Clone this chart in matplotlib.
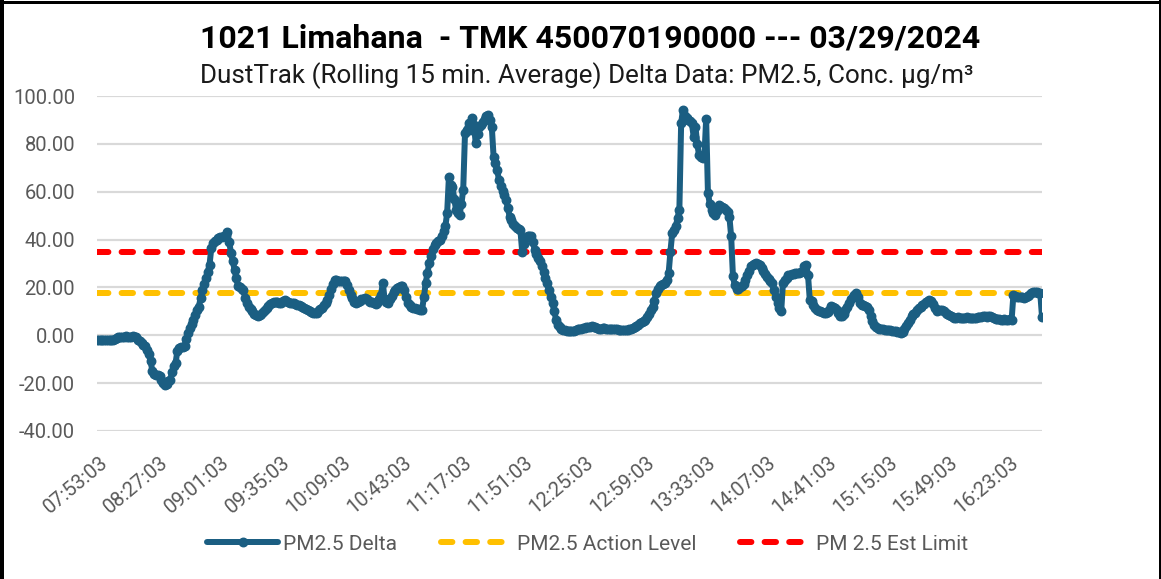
import numpy as np
import matplotlib
matplotlib.use("Agg")
import matplotlib.pyplot as plt
from matplotlib.lines import Line2D
import matplotlib.transforms as mtrans
from datetime import datetime, timedelta

plt.rcParams['font.family'] = ['Roboto', 'DejaVu Sans']

# ---------------- data ----------------
title = "1021 Limahana  - TMK 450070190000 --- 03/29/2024"
subtitle = "DustTrak (Rolling 15 min. Average) Delta Data: PM2.5, Conc. µg/m³"
start_time = "07:53:03"
label_every = 34
series_names = ["PM2.5 Delta", "PM2.5 Action Level", "PM 2.5 Est Limit"]
action_level = 17.5
est_limit = 35.0
y_ticks = [-40, -20, 0, 20, 40, 60, 80, 100]

pm25_delta = [
    -2.1, -2.0, -2.0, -2.0, -2.0, -2.0, -2.0, -2.0, -2.0, -1.9,
    -1.5, -1.0, -0.8, -0.7, -0.8, -0.6, -0.5, -0.6, -0.7, -0.6,
    -0.5, -0.6, -0.9, -1.8, -2.5, -3.2, -3.9, -4.6, -6.0, -8.0,
    -10.8, -15.0, -16.2, -16.5, -16.8, -17.0, -18.5, -19.8, -20.6, -20.2,
    -19.0, -18.5, -15.5, -13.0, -11.5, -6.5, -5.5, -5.0, -4.8, -4.6,
    -1.5, 1.0, 3.0, 4.8, 6.5, 8.5, 10.5, 12.0, 15.5, 19.0,
    21.5, 24.0, 26.5, 29.5, 36.5, 38.5, 39.5, 40.0, 40.6, 41.0,
    41.2, 41.5, 42.0, 43.0, 39.0, 34.5, 31.0, 27.4, 24.0, 20.4,
    20.0, 19.5, 19.0, 15.5, 13.5, 12.0, 10.8, 10.0, 9.0, 8.5,
    8.0, 8.3, 9.0, 9.8, 10.7, 11.5, 12.3, 13.0, 13.5, 13.8,
    14.0, 14.0, 13.6, 13.5, 14.2, 14.8, 14.5, 13.8, 13.5, 13.6,
    13.5, 13.2, 12.8, 12.5, 12.2, 12.0, 11.5, 11.0, 10.5, 10.0,
    9.8, 9.5, 9.3, 9.5, 10.5, 11.0, 11.5, 12.5, 13.5, 14.9,
    17.0, 19.5, 21.5, 23.2, 23.0, 22.8, 22.5, 22.8, 22.5, 22.5,
    21.0, 19.0, 17.0, 15.5, 14.0, 13.5, 13.8, 14.5, 15.0, 15.3,
    15.6, 15.0, 14.5, 14.0, 13.8, 13.5, 13.2, 13.5, 15.0, 17.0,
    21.9, 15.0, 14.0, 13.5, 15.0, 16.5, 18.0, 19.0, 19.8, 20.2,
    20.4, 20.4, 19.0, 16.0, 13.5, 12.5, 12.0, 11.4, 11.2, 11.0,
    10.8, 10.7, 10.7, 16.0, 21.9, 26.0, 30.2, 33.0, 36.0, 37.8,
    38.5, 39.2, 39.9, 41.5, 43.5, 45.5, 51.0, 66.3, 63.0, 62.0,
    57.0, 52.4, 51.0, 50.4, 55.0, 60.8, 84.4, 86.0, 88.6, 85.8,
    90.7, 88.0, 80.3, 84.0, 87.2, 88.0, 89.3, 90.5, 91.5, 92.1,
    90.0, 87.2, 74.7, 72.0, 69.1, 65.0, 62.2, 60.5, 58.5, 56.6,
    53.0, 49.6, 48.0, 46.5, 45.5, 45.0, 44.5, 44.1, 35.0, 38.0,
    41.0, 41.3, 41.5, 41.3, 39.0, 35.8, 34.0, 32.5, 31.0, 28.8,
    26.5, 24.0, 21.9, 19.0, 16.0, 13.5, 10.0, 6.5, 4.5, 3.5,
    2.6, 2.4, 2.2, 2.0, 1.8, 1.7, 1.8, 2.0, 2.3, 2.5,
    2.7, 2.8, 3.0, 3.2, 3.3, 3.5, 3.6, 3.8, 3.6, 3.3,
    3.0, 2.8, 2.8, 2.9, 3.0, 2.8, 2.7, 2.6, 2.7, 2.6,
    2.5, 2.5, 2.4, 2.4, 2.3, 2.3, 2.4, 2.4, 2.5, 2.8,
    3.2, 3.5, 3.8, 4.3, 5.0, 5.6, 6.0, 6.5, 7.5, 9.0,
    10.5, 12.0, 14.5, 17.5, 19.5, 20.4, 21.0, 21.5, 22.0, 23.2,
    26.0, 35.0, 42.7, 44.0, 45.5, 49.0, 52.4, 88.6, 94.2, 91.5,
    90.7, 90.0, 89.5, 88.6, 83.0, 87.2, 80.0, 75.4, 74.5, 74.0,
    74.7, 90.3, 59.4, 55.0, 52.4, 51.0, 50.4, 52.0, 54.5, 54.0,
    53.5, 53.1, 52.5, 51.5, 49.6, 41.3, 24.6, 21.0, 19.5, 19.5,
    20.0, 20.4, 21.5, 23.0, 25.0, 27.0, 28.8, 29.5, 30.0, 30.2,
    30.0, 29.2, 28.0, 26.7, 25.5, 24.5, 23.5, 22.5, 21.9, 19.0,
    16.0, 13.5, 11.5, 10.0, 21.9, 23.0, 24.0, 25.0, 25.3, 25.5,
    25.8, 26.0, 26.0, 26.2, 26.5, 27.0, 28.8, 29.5, 25.3, 14.9,
    14.2, 12.5, 11.5, 10.7, 10.2, 10.0, 9.8, 9.3, 9.5, 9.8,
    10.5, 12.1, 11.8, 11.4, 10.5, 9.5, 8.2, 7.9, 9.0, 10.5,
    12.0, 13.5, 15.0, 16.0, 17.0, 17.7, 16.0, 13.6, 12.8, 12.5,
    12.1, 12.0, 10.5, 7.9, 6.0, 4.5, 3.6, 3.1, 2.8, 2.6,
    2.5, 2.4, 2.4, 2.3, 2.2, 2.0, 1.8, 1.6, 1.4, 1.2,
    1.0, 1.5, 2.5, 3.8, 5.0, 6.5, 7.9, 8.8, 9.5, 10.5,
    11.4, 12.0, 12.5, 13.0, 13.8, 14.2, 14.9, 14.5, 13.0, 11.5,
    10.0, 10.5, 10.7, 10.5, 10.0, 9.5, 9.0, 8.5, 8.0, 7.6,
    7.3, 7.3, 7.5, 7.4, 7.3, 7.2, 7.3, 7.5, 7.4, 7.3,
    7.3, 7.2, 7.4, 7.5, 7.6, 7.7, 7.9, 8.0, 7.8, 7.9,
    7.9, 7.5, 7.2, 7.0, 6.8, 6.7, 6.5, 6.5, 6.6, 6.5,
    6.5, 6.6, 6.5, 17.0, 16.5, 16.2, 16.0, 16.0, 15.8, 15.5,
    16.0, 16.5, 17.0, 17.5, 18.0, 18.2, 18.0, 17.8, 17.8, 7.8,
]

# ---------------- derived ----------------
n = len(pm25_delta)
t0 = datetime.strptime(start_time, "%H:%M:%S")
times = [(t0 + timedelta(minutes=i)).strftime("%H:%M:%S") for i in range(n)]
x = np.arange(n)
tick_idx = list(range(0, n, label_every))
tick_lbl = [times[i] for i in tick_idx]

# ---------------- style ----------------
W, H = 1161, 579
DPI = 100
def px(v):
    return v * 72.0 / DPI

c_line = "#1B5E82"
c_action = "#FFC000"
c_limit = "#FF0000"
c_grid = "#D9D9D9"
c_text = "#595959"

fig = plt.figure(figsize=(W / DPI, H / DPI), dpi=DPI)
fig.patch.set_facecolor("white")

ax_l, ax_r, ax_t, ax_b = 97, 1042, 96, 431
ax = fig.add_axes([ax_l / W, 1 - ax_b / H, (ax_r - ax_l) / W, (ax_b - ax_t) / H])

ax.set_ylim(y_ticks[0], y_ticks[-1])
ax.set_xlim(0, n - 1)
ax.set_yticks(y_ticks)
ax.set_yticklabels([f"{v:.2f}" for v in y_ticks])
ax.grid(axis="y", color=c_grid, lw=px(2.2))
ax.set_axisbelow(True)
for s in ax.spines.values():
    s.set_visible(False)

dash = (1.9, 2.2)
lw_dash = px(6)
ax.axhline(action_level, color=c_action, lw=lw_dash, dashes=dash,
           dash_capstyle="round", zorder=2)
ax.axhline(est_limit, color=c_limit, lw=lw_dash, dashes=dash,
           dash_capstyle="round", zorder=2)
ax.plot(x, pm25_delta, color=c_line, lw=px(6), marker="o", ms=px(8.5),
        mec=c_line, mfc=c_line, zorder=3, solid_joinstyle="round",
        solid_capstyle="round")

ax.tick_params(axis="y", length=0, pad=px(22), labelsize=14.5, labelcolor=c_text)
ax.set_xticks(tick_idx)
ax.set_xticklabels(tick_lbl)
ax.tick_params(axis="x", length=0, pad=px(22), labelsize=14.5, labelcolor=c_text)
offset = mtrans.ScaledTranslation(px(2) / 72, 0, fig.dpi_scale_trans)
for lbl in ax.get_xticklabels():
    lbl.set_rotation(40)
    lbl.set_ha("right")
    lbl.set_va("top")
    lbl.set_rotation_mode("anchor")
    lbl.set_transform(lbl.get_transform() + offset)

# titles
fig.text(590 / W, 1 - 38 / H, title, ha="center", va="center",
         fontsize=23, fontweight="bold", color="black")
fig.text(587 / W, 1 - 76 / H, subtitle, ha="center", va="center",
         fontsize=18.7, color="#1A1A1A")

# legend
handles = [
    Line2D([], [], color=c_line, lw=px(6), marker="o", ms=px(8.5), markevery=[1],
           solid_capstyle="round"),
    Line2D([], [], color=c_action, lw=lw_dash, dashes=dash, dash_capstyle="round"),
    Line2D([], [], color=c_limit, lw=lw_dash, dashes=dash, dash_capstyle="round"),
]
leg = fig.legend(handles, series_names, loc="center", ncol=3,
                 bbox_to_anchor=(588 / W, 1 - 544 / H), frameon=False,
                 fontsize=15, handlelength=3.4, handletextpad=0.25,
                 columnspacing=2.1, labelcolor=c_text)

# outer frame
fig.add_artist(Line2D([2 / W, 2 / W], [0, 1], transform=fig.transFigure,
                      color="black", lw=px(4)))
fig.add_artist(Line2D([0, 1], [1 - 1.5 / H, 1 - 1.5 / H], transform=fig.transFigure,
                      color="black", lw=px(3)))
fig.add_artist(Line2D([1 - 1.5 / W, 1 - 1.5 / W], [0, 1], transform=fig.transFigure,
                      color="black", lw=px(3)))

fig.savefig("out.png", dpi=DPI, facecolor="white")
